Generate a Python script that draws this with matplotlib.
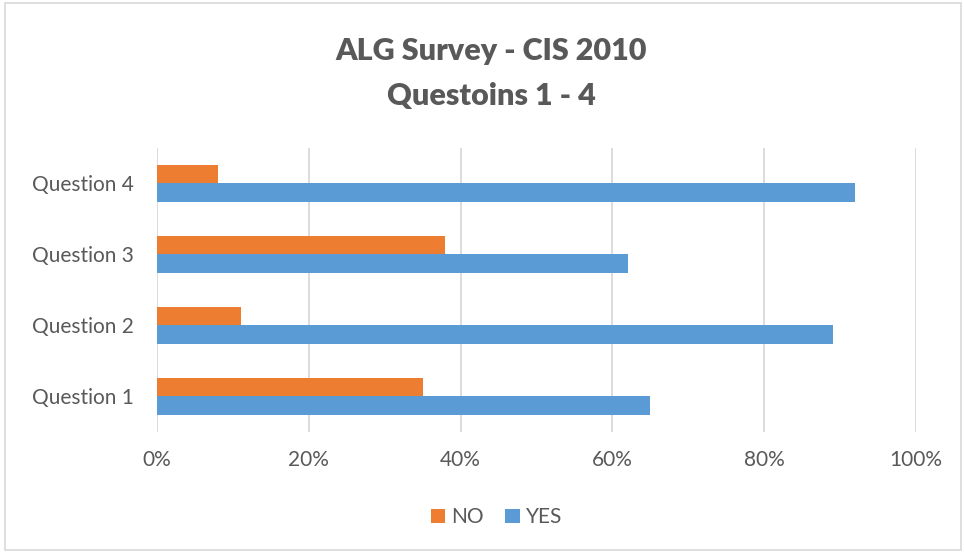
import matplotlib.pyplot as plt
from matplotlib.patches import Rectangle
import numpy as np

# data
questions = ['Question 1', 'Question 2', 'Question 3', 'Question 4']
yes_pct = [65, 89, 62, 92]
no_pct = [35, 11, 38, 8]
x_ticks = [0, 20, 40, 60, 80, 100]

blue = '#5B9BD5'
orange = '#ED7D31'
grey_txt = '#595959'
grid_c = '#D9D9D9'

plt.rcParams['font.family'] = ['Lato', 'DejaVu Sans']

fig = plt.figure(figsize=(9.64, 5.52), dpi=100)
ax = fig.add_axes([0.1629, 0.2174, 0.7873, 0.5145])

y = np.arange(len(questions))
h = 0.254
ax.barh(y + h / 2, no_pct, height=h, color=orange, label='NO', zorder=3)
ax.barh(y - h / 2, yes_pct, height=h, color=blue, label='YES', zorder=3)

ax.set_xlim(0, 100)
ax.set_ylim(-0.5, 3.5)
ax.set_xticks(x_ticks)
ax.set_xticklabels([f'{t}%' for t in x_ticks])
ax.set_yticks(y)
ax.set_yticklabels(questions)
ax.tick_params(axis='both', length=0, labelsize=15, labelcolor=grey_txt)
ax.tick_params(axis='y', pad=17)
ax.tick_params(axis='x', pad=13)
ax.grid(axis='x', color=grid_c, linewidth=1.3, zorder=0)
for s in ax.spines.values():
    s.set_visible(False)

fig.text(0.5095, 0.907, 'ALG Survey - CIS 2010', ha='center', va='center',
         fontsize=22, fontweight='heavy', color=grey_txt)
fig.text(0.5095, 0.826, 'Questoins 1 - 4', ha='center', va='center',
         fontsize=22, fontweight='heavy', color=grey_txt)

fig.legend(loc='center', bbox_to_anchor=(0.515, 0.063), ncol=2, frameon=False,
           fontsize=15, labelcolor=grey_txt, handlelength=0.7, handleheight=0.7,
           handletextpad=0.3, columnspacing=1.0)

# chart border
fig.patches.append(Rectangle((0.005, 0.004), 0.992, 0.991, transform=fig.transFigure,
                             fill=False, edgecolor=grid_c, linewidth=1.2))

fig.savefig('out.png', dpi=100)
